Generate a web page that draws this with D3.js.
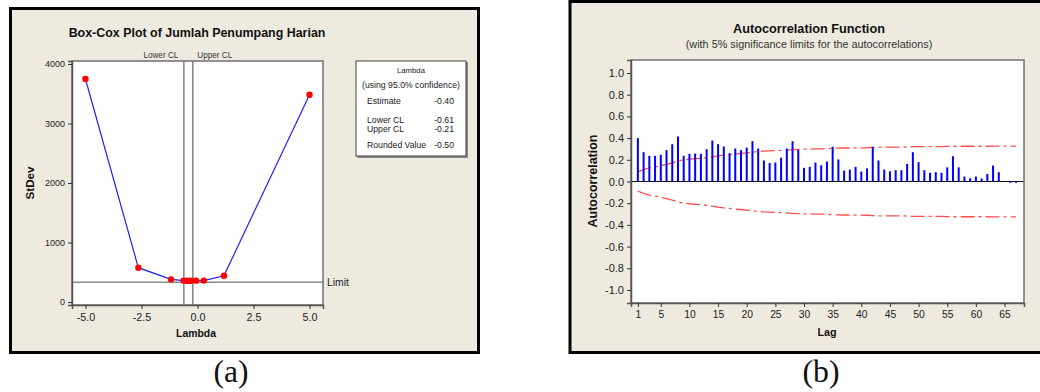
<!DOCTYPE html>
<html><head><meta charset="utf-8">
<script src="https://cdn.jsdelivr.net/npm/d3@7/dist/d3.min.js"></script>
<style>
html,body{margin:0;padding:0;background:#fff;}
svg{display:block;}
</style></head>
<body>
<svg id="c" width="1040" height="392"></svg>
<script>
// ---------- Data: Box-Cox (a) ----------
const lambdas = [-5, -2.64, -1.18, -0.62, -0.49, -0.41, -0.36, -0.28, -0.06, 0.28, 1.18, 5];
const stdevs  = [3748, 577, 381, 360, 357, 356, 356, 357, 359, 360, 442, 3484];
const lowerCL = -0.61;
const upperCL = -0.21;
const limitValue = 332;
const bcXTicks = [-5, -2.5, 0, 2.5, 5];
const bcYTicks = [0, 1000, 2000, 3000, 4000];
const legendRows = [["Estimate", "-0.40"], ["Lower CL", "-0.61"], ["Upper CL", "-0.21"], ["Rounded Value", "-0.50"]];

// ---------- Data: ACF (b) ----------
const lags = d3.range(1, 68);
const acf = [0.40,0.27,0.237,0.237,0.246,0.289,0.344,0.415,0.237,0.255,
             0.258,0.255,0.298,0.378,0.344,0.323,0.261,0.304,0.289,0.313,
             0.372,0.304,0.194,0.17,0.175,0.22,0.304,0.372,0.292,0.126,
             0.135,0.175,0.15,0.184,0.32,0.203,0.10,0.11,0.135,0.092,
             0.12,0.32,0.194,0.11,0.094,0.104,0.104,0.163,0.27,0.178,
             0.104,0.08,0.086,0.08,0.13,0.233,0.13,0.046,0.03,0.046,
             0.028,0.07,0.147,0.086,0.0,-0.012,-0.012];
const upperLim = [0.088,0.11,0.125,0.135,0.145,0.158,0.172,0.19,0.198,0.205,
                  0.21,0.214,0.219,0.228,0.237,0.244,0.248,0.254,0.258,0.263,
                  0.27,0.276,0.28,0.282,0.284,0.286,0.289,0.294,0.297,0.298,
                  0.299,0.30,0.301,0.303,0.307,0.308,0.309,0.309,0.31,0.31,
                  0.311,0.315,0.316,0.316,0.317,0.317,0.317,0.318,0.321,0.322,
                  0.322,0.322,0.322,0.322,0.323,0.325,0.325,0.325,0.325,0.325,
                  0.325,0.325,0.326,0.326,0.326,0.326,0.326];
const lowerLim = [-0.088,-0.11,-0.125,-0.135,-0.145,-0.158,-0.172,-0.19,-0.198,-0.205,
                  -0.21,-0.214,-0.219,-0.228,-0.237,-0.244,-0.248,-0.254,-0.258,-0.263,
                  -0.27,-0.276,-0.28,-0.282,-0.284,-0.286,-0.289,-0.294,-0.297,-0.298,
                  -0.299,-0.30,-0.301,-0.303,-0.307,-0.308,-0.309,-0.309,-0.31,-0.31,
                  -0.311,-0.315,-0.316,-0.316,-0.317,-0.317,-0.317,-0.318,-0.321,-0.322,
                  -0.322,-0.322,-0.322,-0.322,-0.323,-0.325,-0.325,-0.325,-0.325,-0.325,
                  -0.325,-0.325,-0.326,-0.326,-0.326,-0.326,-0.326];
const acfXTicks = [1,5,10,15,20,25,30,35,40,45,50,55,60,65];
const acfYTicks = [-1.0,-0.8,-0.6,-0.4,-0.2,0.0,0.2,0.4,0.6,0.8,1.0];

const SANS = "'Liberation Sans', Arial, sans-serif";
const SERIF = "'Liberation Serif', 'Times New Roman', serif";
const svg = d3.select("#c");
const BG = "#eeeae0";
const fmtDash = s => s.replace("\u2212", "-");

// scale font-size so that text gets the target width
function fit(sel, w) {
  const n = sel.node();
  const cur = n.getComputedTextLength();
  const fs = parseFloat(sel.style("font-size"));
  if (cur > 0) sel.style("font-size", (fs * w / cur) + "px");
  return sel;
}
function txt(g, x, y, s, o = {}) {
  const t = g.append("text").attr("x", x).attr("y", y).text(s)
    .attr("text-anchor", o.anchor || "start")
    .style("font-family", o.family || SANS)
    .style("font-size", (o.size || 11) + "px")
    .style("font-weight", o.bold ? "bold" : "normal")
    .style("fill", o.fill || "#1a1a1a");
  if (o.w) fit(t, o.w);
  return t;
}
function styleAxis(a, sample, w) {
  a.select(".domain").attr("stroke", "#555").attr("stroke-width", 1.5);
  a.selectAll(".tick line").attr("stroke", "#333");
  const texts = a.selectAll("text").style("font-family", SANS).style("font-size", "11px").style("fill", "#222");
  // find sample label for fitting
  let node = null;
  texts.each(function () { if (this.textContent === sample) node = this; });
  if (node) {
    const cur = node.getComputedTextLength();
    texts.style("font-size", (11 * w / cur) + "px");
  }
}

// ================= Panel (a) =================
svg.append("rect").attr("x", 10.5).attr("y", 8.5).attr("width", 468).attr("height", 344)
  .attr("fill", BG).attr("stroke", "#000").attr("stroke-width", 3);

const xL = d3.scaleLinear().domain([-5.6, 5.6]).range([72, 323]);
const yL = d3.scaleLinear().domain([-50, 4050]).range([305, 61]);
const gA = svg.append("g");

gA.append("rect").attr("x", 72).attr("y", 61).attr("width", 251).attr("height", 244).attr("fill", "#fff");

[lowerCL, upperCL].forEach(v => {
  gA.append("line").attr("x1", xL(v)).attr("x2", xL(v)).attr("y1", 61).attr("y2", 305)
    .attr("stroke", "#8a8a8a").attr("stroke-width", 1.6);
});
gA.append("line").attr("x1", 72).attr("x2", 323).attr("y1", yL(limitValue)).attr("y2", yL(limitValue))
  .attr("stroke", "#8a8a8a").attr("stroke-width", 1.6);

gA.append("rect").attr("x", 72).attr("y", 61).attr("width", 251).attr("height", 244)
  .attr("fill", "none").attr("stroke", "#707070").attr("stroke-width", 1.5);

const axL = gA.append("g").attr("transform", "translate(72,0)")
  .call(d3.axisLeft(yL).tickValues(bcYTicks).tickSize(4).tickPadding(3).tickFormat(d3.format("d")));
const axB = gA.append("g").attr("transform", "translate(0,305)")
  .call(d3.axisBottom(xL).tickValues(bcXTicks).tickSize(4).tickPadding(4).tickFormat(d => fmtDash(d3.format(".1f")(d))));
styleAxis(axL, "4000", 20);
styleAxis(axB, "-5.0", 18.5);

const line = d3.line().x((d, i) => xL(lambdas[i])).y(d => yL(d));
gA.append("path").datum(stdevs).attr("d", line).attr("fill", "none").attr("stroke", "#2020ff").attr("stroke-width", 1.2);
gA.selectAll("circle.p").data(stdevs).join("circle").attr("class", "p")
  .attr("cx", (d, i) => xL(lambdas[i])).attr("cy", d => yL(d)).attr("r", 3.2).attr("fill", "#ff0000");

txt(gA, 197, 37, "Box-Cox Plot of Jumlah Penumpang Harian", { anchor: "middle", size: 13, bold: true, w: 257, fill: "#111" });
txt(gA, xL(lowerCL) - 5.5, 58, "Lower CL", { anchor: "end", size: 9, w: 35, fill: "#333" });
txt(gA, xL(upperCL) + 4.5, 58, "Upper CL", { anchor: "start", size: 9, w: 35, fill: "#333" });
txt(gA, 327, yL(limitValue) + 4, "Limit", { size: 10, w: 22, fill: "#222" });
txt(gA, 196, 337, "Lambda", { anchor: "middle", size: 11, bold: true, w: 40, fill: "#111" });
txt(gA, 0, 0, "StDev", { anchor: "middle", size: 11, bold: true, w: 33, fill: "#111" })
  .attr("transform", "translate(33.5,183) rotate(-90)");

// legend box
const lg = gA.append("g");
lg.append("rect").attr("x", 357).attr("y", 62).attr("width", 111).attr("height", 96).attr("fill", "#888");
lg.append("rect").attr("x", 356).attr("y", 61).attr("width", 110).attr("height", 95)
  .attr("fill", "#fff").attr("stroke", "#444").attr("stroke-width", 1);
txt(lg, 411, 72.5, "Lambda", { anchor: "middle", size: 8.5, w: 28 });
const lgSub = txt(lg, 411, 88, "(using 95.0% confidence)", { anchor: "middle", size: 8.5, w: 98 });
const lgSize = parseFloat(lgSub.style("font-size"));
const rowY = [104, 123, 132, 147.5];
legendRows.forEach((r, i) => {
  txt(lg, 367, rowY[i], r[0], { size: lgSize });
  txt(lg, 454, rowY[i], r[1], { anchor: "end", size: lgSize });
});

txt(svg, 231, 382, "(a)", { anchor: "middle", family: SERIF, size: 23, w: 35, fill: "#111" });

// ================= Panel (b) =================
svg.append("rect").attr("x", 570).attr("y", 1.5).attr("width", 500).attr("height", 351)
  .attr("fill", BG).attr("stroke", "#000").attr("stroke-width", 3);

const xR = d3.scaleLinear().domain([-0.2, 68.4]).range([631, 1024]);
const yR = d3.scaleLinear().domain([-1.12, 1.12]).range([303, 60]);
const gB = svg.append("g");
gB.append("rect").attr("x", 631).attr("y", 60).attr("width", 393).attr("height", 243).attr("fill", "#fff");

const limLine = arr => d3.line().x((d, i) => xR(lags[i])).y(d => yR(d))(arr);
[upperLim, lowerLim].forEach(arr => {
  gB.append("path").attr("d", limLine(arr)).attr("fill", "none").attr("stroke", "#ff2020")
    .attr("stroke-opacity", 0.8).attr("stroke-width", 1.3).attr("stroke-dasharray", "14,4,3,4");
});

gB.append("line").attr("x1", 631).attr("x2", 1024).attr("y1", yR(0)).attr("y2", yR(0)).attr("stroke", "#111").attr("stroke-width", 1.2);

gB.selectAll("line.bar").data(acf).join("line").attr("class", "bar")
  .attr("x1", (d, i) => xR(lags[i])).attr("x2", (d, i) => xR(lags[i]))
  .attr("y1", yR(0)).attr("y2", d => yR(d)).attr("stroke", "#0000ff").attr("stroke-width", 2);

gB.append("rect").attr("x", 631).attr("y", 60).attr("width", 393).attr("height", 243)
  .attr("fill", "none").attr("stroke", "#707070").attr("stroke-width", 1.5);

const axRL = gB.append("g").attr("transform", "translate(631,0)")
  .call(d3.axisLeft(yR).tickValues(acfYTicks).tickSize(4).tickPadding(3).tickFormat(d => fmtDash(d3.format(".1f")(d))));
const axRB = gB.append("g").attr("transform", "translate(0,303)")
  .call(d3.axisBottom(xR).tickValues(acfXTicks).tickSize(4).tickPadding(4).tickFormat(d3.format("d")));
styleAxis(axRL, "-0.2", 19);
styleAxis(axRB, "65", 11.5);

txt(gB, 809, 33, "Autocorrelation Function", { anchor: "middle", size: 13, bold: true, w: 152, fill: "#111" });
txt(gB, 809, 47.5, "(with 5% significance limits for the autocorrelations)", { anchor: "middle", size: 11, w: 246.7, fill: "#333" });
txt(gB, 0, 0, "Autocorrelation", { anchor: "middle", size: 11, bold: true, w: 93, fill: "#111" })
  .attr("transform", "translate(597,181) rotate(-90)");
txt(gB, 827, 336, "Lag", { anchor: "middle", size: 11, bold: true, w: 19, fill: "#111" });

txt(svg, 821, 382, "(b)", { anchor: "middle", family: SERIF, size: 23, w: 37, fill: "#111" });
</script>
</body></html>
